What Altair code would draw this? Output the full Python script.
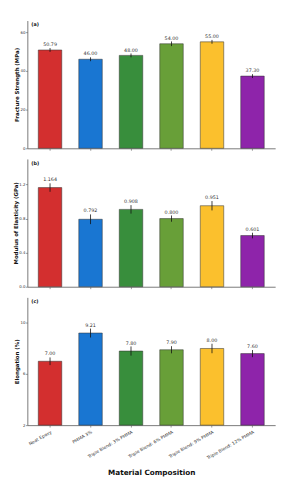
import altair as alt
import pandas as pd

categories = ["Neat Epoxy", "PMMA 3%", "Triple Blend: 3% PMMA",
              "Triple Blend: 6% PMMA", "Triple Blend: 9% PMMA", "Triple Blend: 12% PMMA"]
colors = ["#d32f2f", "#1976d2", "#388e3c", "#689f38", "#fbc02d", "#8e24aa"]

fracture = [50.79, 46.00, 48.00, 54.00, 55.00, 37.30]
fracture_err = [1.0, 1.0, 1.0, 1.2, 1.0, 1.0]
modulus = [1.164, 0.792, 0.908, 0.800, 0.951, 0.601]
modulus_err = [0.05, 0.057, 0.05, 0.037, 0.055, 0.033]
elong = [7.00, 9.21, 7.80, 7.90, 8.00, 7.60]
elong_err = [0.3, 0.35, 0.36, 0.28, 0.37, 0.28]

FONT = "DejaVu Sans"
W, H = 256, 132


def panel(vals, errs, fmt, ytitle, domain, tickvals, tickfmt, tag, bottom):
    df = pd.DataFrame({
        "cat": categories,
        "val": vals,
        "lo": [v - e for v, e in zip(vals, errs)],
        "hi": [v + e for v, e in zip(vals, errs)],
        "lab": [format(v, fmt) for v in vals],
    })
    if bottom:
        xaxis = alt.Axis(title="Material Composition", labelAngle=-30, labelAlign="right",
                         labelBaseline="top", labelFontSize=4.6, labelColor="#333",
                         labelFont=FONT, titleFont=FONT,
                         titleFontSize=7.5, titleFontWeight="bold", titlePadding=9,
                         titleColor="#111", tickSize=2, labelPadding=2, labelOverlap=False)
    else:
        xaxis = alt.Axis(title=None, labels=False, tickSize=2)
    x = alt.X("cat:N", sort=categories, axis=xaxis,
              scale=alt.Scale(paddingInner=0.42, paddingOuter=0.27))
    yscale = alt.Scale(domain=domain, nice=False, zero=False, clamp=True)
    y = alt.Y("val:Q", scale=yscale,
              axis=alt.Axis(title=ytitle, values=tickvals, format=tickfmt, labelFontSize=4,
                            tickSize=2, labelPadding=0.5, titleFontSize=5.6,
                            titleFontWeight="bold", labelFont=FONT, titleFont=FONT,
                            titlePadding=0.5, titleColor="#111", labelColor="#333",
                            labelOverlap=False, labelFlush=False))
    base = alt.Chart(df)
    bars = base.mark_bar(stroke="#333", strokeWidth=0.9, strokeOpacity=0.6).encode(
        x=x, y=y,
        y2=alt.datum(domain[0]),
        color=alt.Color("cat:N", scale=alt.Scale(domain=categories, range=colors), legend=None),
    )
    err = base.mark_rule(color="#111", strokeWidth=0.8).encode(
        x=alt.X("cat:N", sort=categories), y=alt.Y("lo:Q"), y2="hi:Q")
    txt = base.mark_text(fontSize=5, color="#333", baseline="bottom", dy=-1,
                         font=FONT).encode(
        x=alt.X("cat:N", sort=categories), y=alt.Y("hi:Q"), text="lab:N")
    tagc = alt.Chart(pd.DataFrame({"t": [tag]})).mark_text(
        fontSize=5, fontWeight="bold", align="left", baseline="middle", font=FONT,
        color="#111"
    ).encode(x=alt.value(4), y=alt.value(4), text="t:N")
    return alt.layer(bars, err, txt, tagc).properties(width=W, height=H)


pa = panel(fracture, fracture_err, ".2f", "Fracture Strength (MPa)", [0, 66],
           [0, 10, 20, 30, 40, 50, 60], "d", "(a)", False)
pb = panel(modulus, modulus_err, ".3f", "Modulus of Elasticity (GPa)", [0, 1.5],
           [0, 0.2, 0.4, 0.6, 0.8, 1.0, 1.2, 1.4], ".1f", "(b)", False)
pc = panel(elong, elong_err, ".2f", "Elongation (%)", [2, 12],
           [2, 4, 6, 8, 10, 12], "d", "(c)", True)

chart = alt.vconcat(pa, pb, pc, spacing=8).configure_view(
    stroke=None
).configure_axis(
    domainColor="#555", tickColor="#555", domainWidth=0.8, tickWidth=0.6, grid=False
)

chart.save("out.html", embed_options={"renderer": "svg", "actions": False})
